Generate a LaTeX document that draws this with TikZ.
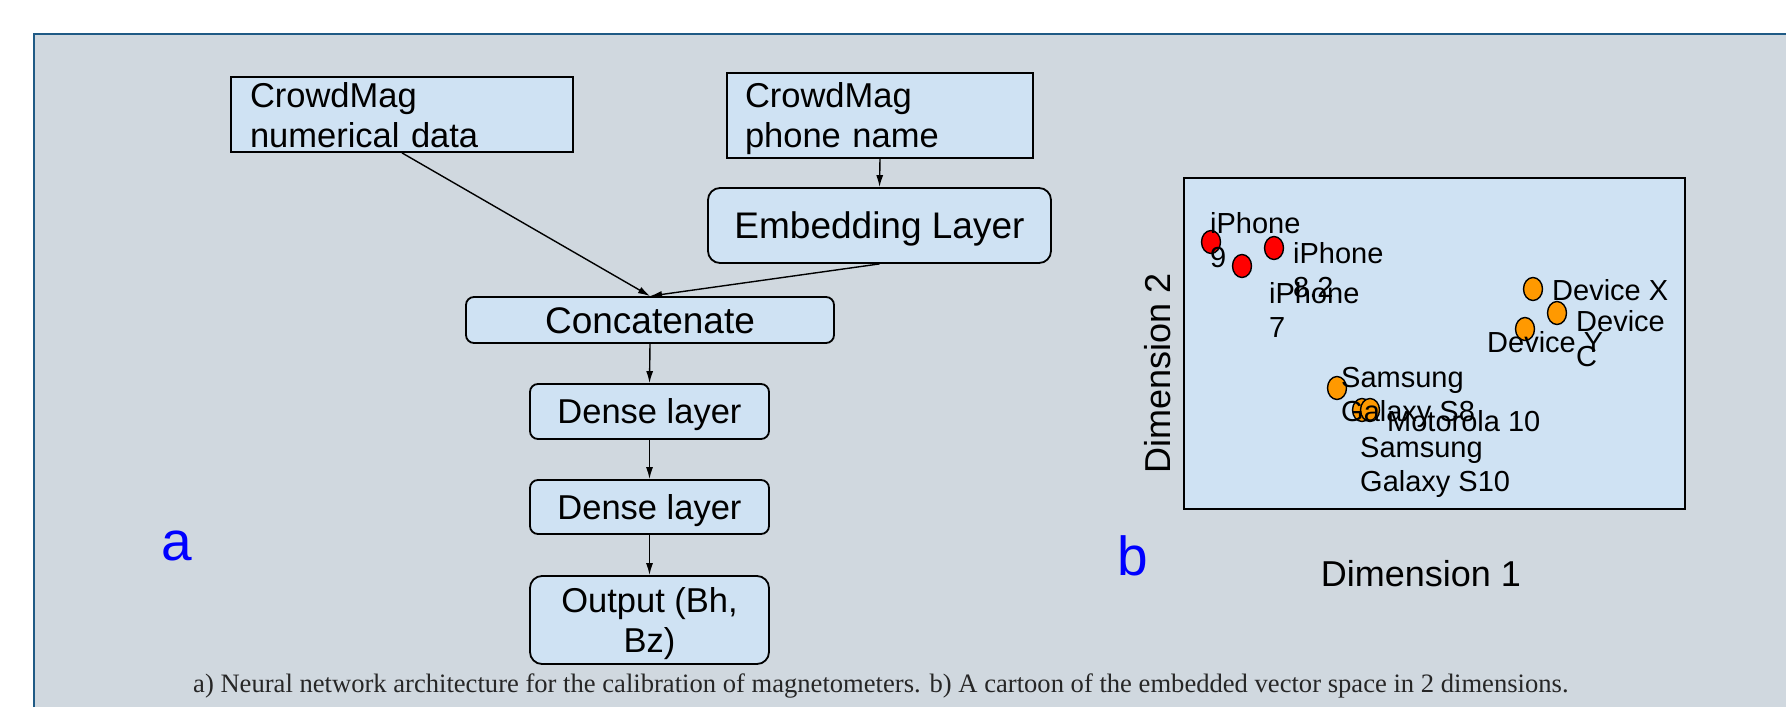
\documentclass[tikz,border=0pt]{standalone}
\usepackage{fontspec}
\setmainfont{Liberation Sans}
\newfontfamily\capfont{Liberation Serif}
\usetikzlibrary{arrows.meta,shapes.geometric}

\definecolor{panelbg}{HTML}{D0D8DF}
\definecolor{panelline}{HTML}{1F5A85}
\definecolor{boxfill}{HTML}{CFE2F3}
\definecolor{dotorange}{HTML}{FF9900}
\definecolor{captext}{HTML}{262626}

% font size / baseline skip in pt
\newcommand\fsz[2]{\fontsize{#1pt}{#2pt}\selectfont}

\begin{document}
\begin{tikzpicture}[x=1pt,y=-1pt,
  box/.style={draw=black, line width=1.8pt, fill=boxfill, inner sep=0pt},
  inbox/.style={box, align=left, font=\fsz{34.5}{40}},
  layer/.style={box, rounded corners=8pt, align=center, font=\fsz{34.5}{40},
                text height=24.7pt, text depth=0pt},
  biglayer/.style={layer, font=\fsz{37}{44}, text height=26.5pt},
  flow/.style={line width=1.4pt, -{Latex[length=12pt,width=7pt]}},
  dot/.style={ellipse, draw=black, line width=1.4pt, minimum width=19pt,
              minimum height=23pt, inner sep=0pt},
  lbl/.style={anchor=base west, inner sep=0pt, align=left, font=\fsz{29}{34.5}},
  panel/.style={font=\fsz{55}{60}, text=blue, inner sep=0pt, anchor=base},
  axis/.style={font=\fsz{36}{40}, inner sep=0pt, anchor=base},
]
\useasboundingbox (0,0) rectangle (1786,707);
\fill[white] (0,0) rectangle (1786,707);
\fill[panelbg] (34,34) rectangle (1786,707);
\draw[panelline, line width=2.2pt] (34,707) -- (34,34) -- (1786,34);

% ---- (a) network architecture ----
\node[inbox, text width=304pt, inner xsep=19pt, minimum height=75pt, text depth=40pt]
  (num) at (402,114.5) {CrowdMag\\numerical data};
\node[inbox, text width=270pt, inner xsep=18pt, minimum height=85pt, text depth=42pt]
  (phone) at (880,115.5) {CrowdMag\\phone name};
\node[biglayer, rounded corners=12pt, minimum width=343pt, minimum height=75pt]
  (emb) at (879.5,225.5) {Embedding Layer};
\node[biglayer, minimum width=368pt, minimum height=46pt]
  (cat) at (650,320) {Concatenate};
\node[layer, minimum width=239pt, minimum height=55pt]
  (dense1) at (649.5,411.5) {Dense layer};
\node[layer, minimum width=239pt, minimum height=54pt]
  (dense2) at (649.5,507) {Dense layer};
\node[layer, rounded corners=12pt, minimum width=239pt, minimum height=88pt,
      text height=65pt, text depth=1pt]
  (out) at (649.5,620) {Output (Bh,\\Bz)};

\draw[flow] (num.south) -- (cat.north);
\draw[flow] (phone.south) -- (emb.north);
\draw[flow] (emb.south) -- (cat.north);
\draw[flow] (cat.south) -- (dense1.north);
\draw[flow] (dense1.south) -- (dense2.north);
\draw[flow] (dense2.south) -- (out.north);

\node[panel] (la) at (176.5,560) {a};

% ---- (b) embedding space ----
\node[draw=black, line width=1.8pt, fill=boxfill, inner sep=0pt,
      minimum width=501pt, minimum height=331pt] (plot) at (1434.5,343.5) {};

\node[dot, fill=red] (i9)  at (1211,242) {};
\node[dot, fill=red] (i82) at (1274,248) {};
\node[dot, fill=red] (i7)  at (1242,266) {};
\node[dot, fill=dotorange] (dx)  at (1533,289) {};
\node[dot, fill=dotorange] (dc)  at (1557,313) {};
\node[dot, fill=dotorange] (dy)  at (1525,329) {};
\node[dot, fill=dotorange] (s8)  at (1337,388) {};
\node[dot, fill=dotorange] (s10) at (1362,410) {};
\node[dot, fill=dotorange] (m10) at (1370,410) {};

% labels: the base point is the baseline of the last line
\node[lbl] (t9)   at (1210,267.5) {iPhone\\9};
\node[lbl] (t82)  at (1293,297.5) {iPhone\\8.2};
\node[lbl] (t7)   at (1269,337.5) {iPhone\\7};
\node[lbl] (tx)   at (1552,300) {Device X};
\node[lbl] (tc)   at (1576,366) {Device\\C};
\node[lbl] (ty)   at (1487,352) {Device Y};
\node[lbl] (ts8)  at (1341,421.5) {Samsung\\Galaxy S8};
\node[lbl] (tm)   at (1387,431) {Motorola 10};
\node[lbl] (ts10) at (1360,491.5) {Samsung\\Galaxy S10};

\node[axis, rotate=90] (ydim) at (1170,373) {Dimension 2};
\node[axis] (xdim) at (1421,586) {Dimension 1};
\node[panel] (lb) at (1133,575) {b};

% ---- caption ----
\node[font=\capfont\fsz{26.6}{30}, text=captext, anchor=base west, inner sep=0pt]
  (cap) at (193,692) {a) Neural network architecture for the calibration of magnetometers. b) A cartoon of the embedded vector space in 2 dimensions.};
\end{tikzpicture}
\end{document}
